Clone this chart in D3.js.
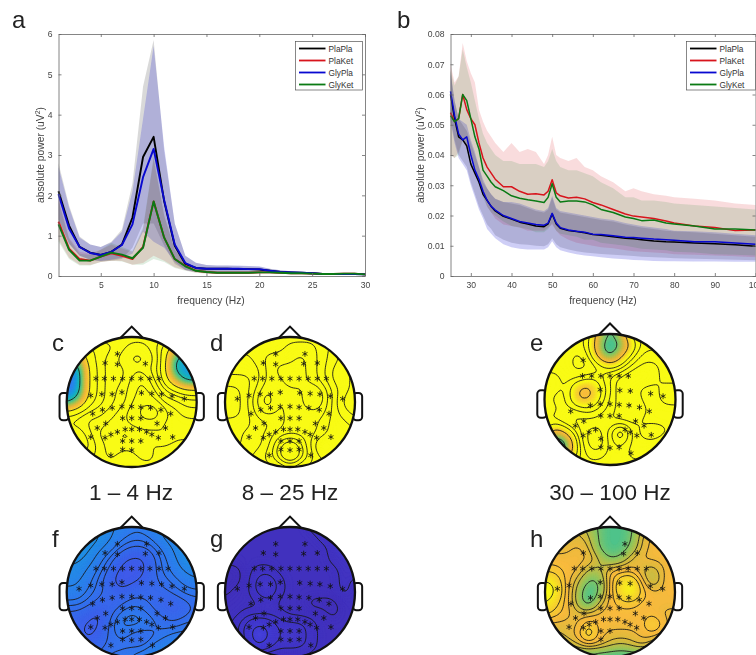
<!DOCTYPE html>
<html>
<head>
<meta charset="utf-8">
<script src="https://d3js.org/d3.v7.min.js"></script>
<style>
    html, body { margin: 0; padding: 0; background: #fff; overflow: hidden; }
    svg { display: block; font-family: "Liberation Sans", Arial, sans-serif; filter: blur(0.35px); }
</style>
</head>
<body>
<svg id="fig" width="756" height="655"></svg>
<script>
// ------------------ panel a: 1-30 Hz ------------------
const freqA = d3.range(1, 31);
const aPlaPla = [2.1,1.25,.72,.58,.52,.6,.78,1.45,2.95,3.45,1.85,.75,.3,.2,.18,.18,.18,.17,.17,.16,.13,.1,.09,.08,.07,.05,.05,.05,.05,.04];
const aPlaKet = [1.35,.68,.42,.38,.48,.56,.5,.42,.72,1.85,.95,.42,.25,.13,.1,.08,.08,.08,.08,.09,.09,.08,.07,.07,.06,.05,.05,.06,.06,.04];
const aGlyPla = [2.03,1.18,.72,.57,.52,.6,.77,1.28,2.45,3.15,1.88,.78,.32,.2,.18,.18,.18,.18,.17,.17,.13,.1,.09,.08,.07,.05,.05,.05,.05,.04];
const aGlyKet = [1.28,.65,.38,.38,.48,.58,.53,.44,.7,1.85,.95,.42,.24,.13,.1,.08,.08,.08,.08,.09,.09,.08,.07,.07,.06,.05,.05,.06,.06,.04];
const aPlaPlaUp = [2.8,1.75,.98,.78,.72,.85,1.15,2.3,4.7,5.85,3.1,1.3,.5,.33,.27,.26,.26,.25,.24,.23,.18,.14,.12,.1,.09,.07,.07,.07,.07,.06];
const aPlaPlaLo = [1.4,.8,.5,.4,.36,.38,.42,.7,1.3,1.3,.75,.3,.15,.1,.1,.1,.1,.1,.1,.09,.08,.06,.06,.05,.05,.04,.03,.03,.03,.03];
const aPlaKetUp = [1.9,.95,.6,.55,.65,.78,.68,.6,1.15,2.9,1.5,.65,.35,.2,.14,.12,.12,.12,.12,.13,.13,.12,.1,.1,.09,.07,.07,.08,.08,.06];
const aPlaKetLo = [.9,.45,.28,.27,.35,.38,.37,.28,.32,.5,.38,.22,.14,.08,.06,.05,.05,.05,.05,.06,.06,.05,.05,.05,.04,.03,.03,.04,.04,.03];
const aGlyPlaUp = [2.7,1.7,.95,.78,.72,.83,1.1,2.1,3.9,5.7,3.2,1.3,.5,.33,.27,.26,.26,.26,.25,.24,.18,.14,.12,.1,.09,.07,.07,.07,.07,.06];
const aGlyPlaLo = [1.4,.8,.5,.4,.37,.4,.45,.55,1.1,.85,.7,.35,.15,.1,.1,.1,.1,.1,.1,.09,.08,.06,.06,.05,.05,.04,.03,.03,.03,.03];
const aGlyKetUp = [1.85,.92,.55,.52,.65,.82,.72,.62,1.2,2.95,1.5,.65,.35,.2,.14,.12,.12,.12,.12,.13,.13,.12,.1,.1,.09,.07,.07,.08,.08,.06];
const aGlyKetLo = [.85,.42,.26,.26,.35,.38,.36,.28,.28,.42,.35,.2,.13,.08,.06,.05,.05,.05,.05,.06,.06,.05,.05,.05,.04,.03,.03,.04,.04,.03];

// ------------------ panel b: 25-100 Hz ------------------
const freqB = [25,26,27,28,29,30,31,32,33,34,35,36,38,40,42,44,46,48,49,50,51,52,54,56,58,60,62,65,68,70,72,75,78,80,85,90,95,100];
const bPlaPla = [.060,.052,.046,.045,.043,.037,.034,.031,.027,.025,.023,.0215,.0197,.0188,.0178,.0172,.0165,.0163,.0172,.0205,.0172,.0158,.0150,.0147,.0143,.0137,.0135,.0130,.0125,.0123,.0120,.0116,.0113,.0112,.0109,.0107,.0103,.0098];
const bPlaKet = [.054,.051,.052,.060,.055,.052,.050,.044,.039,.036,.034,.032,.0295,.0295,.0280,.0270,.0272,.0268,.0280,.0318,.0275,.0265,.0258,.0260,.0255,.0243,.0235,.0220,.0205,.0198,.0195,.0190,.0182,.0175,.0165,.0160,.0150,.0152];
const bGlyPla = [.061,.053,.047,.045,.046,.040,.035,.032,.028,.025,.023,.0218,.0200,.0190,.0180,.0175,.0170,.0168,.0175,.0207,.0175,.0160,.0152,.0148,.0145,.0138,.0137,.0133,.0128,.0127,.0125,.0122,.0120,.0118,.0113,.0113,.0109,.0105];
const bGlyKet = [.053,.051,.052,.060,.058,.052,.046,.042,.035,.033,.031,.0295,.0282,.0265,.0257,.0252,.0248,.0243,.0260,.0305,.0260,.0245,.0248,.0248,.0245,.0235,.0220,.0210,.0195,.0190,.0183,.0185,.0175,.0172,.0165,.0155,.0155,.0152];
const bPlaPlaUp = [.068,.058,.052,.050,.048,.044,.040,.036,.031,.029,.027,.0255,.0245,.024,.0235,.0225,.0215,.021,.022,.026,.022,.021,.0205,.020,.0195,.019,.0185,.018,.017,.0165,.016,.0155,.015,.0148,.0145,.014,.0135,.013];
const bPlaPlaLo = [.052,.045,.040,.038,.036,.031,.027,.023,.020,.017,.0155,.0135,.012,.011,.0105,.0103,.0100,.0098,.0105,.0125,.0105,.0095,.0088,.0082,.0078,.0075,.0073,.007,.0068,.0066,.0064,.0062,.006,.0059,.0057,.0055,.0054,.0052];
const bPlaKetUp = [.070,.064,.066,.077,.071,.067,.064,.055,.051,.048,.046,.044,.041,.044,.041,.042,.041,.037,.040,.046,.040,.039,.038,.039,.036,.035,.033,.031,.028,.029,.028,.027,.0265,.026,.0255,.025,.024,.0235];
const bPlaKetLo = [.040,.039,.041,.045,.042,.040,.036,.032,.027,.023,.021,.019,.017,.0165,.016,.015,.015,.015,.016,.017,.015,.0135,.012,.011,.0105,.010,.0095,.0092,.0085,.0082,.008,.0078,.0075,.0072,.007,.0068,.0065,.0062];
const bGlyPlaUp = [.067,.058,.052,.051,.050,.045,.041,.036,.032,.029,.027,.0255,.0245,.0245,.024,.023,.022,.0215,.0225,.0265,.0225,.0215,.021,.0205,.020,.0195,.019,.0185,.0175,.017,.0165,.016,.0155,.015,.0148,.0145,.014,.0135];
const bGlyPlaLo = [.051,.044,.039,.037,.035,.030,.026,.022,.019,.0155,.014,.0125,.0105,.0095,.009,.0088,.0088,.0088,.0095,.0115,.0095,.0085,.0078,.0072,.0068,.0065,.0062,.0058,.0055,.0053,.0052,.005,.0049,.0049,.0048,.0048,.0047,.0047];
const bGlyKetUp = [.068,.063,.066,.075,.069,.064,.058,.052,.047,.044,.042,.040,.038,.038,.037,.037,.037,.036,.038,.042,.038,.036,.035,.035,.034,.033,.031,.029,.026,.026,.025,.025,.0245,.024,.0235,.023,.0225,.022];
const bGlyKetLo = [.040,.039,.040,.045,.043,.040,.035,.031,.026,.023,.021,.020,.018,.0165,.016,.0155,.0145,.0145,.0155,.0175,.015,.014,.0135,.013,.012,.012,.011,.0105,.010,.0095,.009,.0088,.0085,.008,.0078,.0072,.007,.0068];

const groupNames = ["PlaPla", "PlaKet", "GlyPla", "GlyKet"];
const groupColors = ["#000000", "#d8141c", "#0808d0", "#0a7a14"];
const bandOpacity = [0.15, 0.15, 0.2, 0.13];

const ticksAX = [5, 10, 15, 20, 25, 30];
const ticksAY = [0, 1, 2, 3, 4, 5, 6];
const ticksBX = [30, 40, 50, 60, 70, 80, 90, 100];
const ticksBY = [0, .01, .02, .03, .04, .05, .06, .07, .08];

// ------------------ topographies ------------------
// sensor layout, unit head radius, y pointing to the back of the head
const sensorX = [-.22,.23,-.41,-.22,.21,.42,
    -.55,-.42,-.28,-.14,0,.14,.28,.42,.56,
    -.81,-.63,-.46,-.30,-.15,.15,.31,.46,.62,.81,
    -.60,-.45,-.30,-.15,0,.14,.29,.45,.60,
    -.14,0,.14,-.53,-.40,.39,.52,
    -.63,-.41,-.32,-.22,-.10,0,.12,.23,.31,.41,.63,
    -.14,0,.14,-.14,0,.14,-.32,.32];
const sensorY = [-.74,-.74,-.60,-.58,-.59,-.60,
    -.36,-.36,-.36,-.36,-.36,-.36,-.36,-.36,-.36,
    -.05,-.10,-.12,-.12,-.15,-.14,-.13,-.12,-.09,-.05,
    .18,.12,.09,.07,.07,.08,.09,.12,.18,
    .25,.25,.25,.40,.33,.33,.40,
    .54,.55,.50,.46,.42,.42,.42,.46,.50,.55,.54,
    .60,.60,.60,.73,.74,.73,.82,.82];
const sensorsC = d3.range(60).filter(i => ![1,5,14,15,57,59].includes(i));
const sensorsD = d3.range(60);
const sensorsE = [2,7,8,9,10,11,12,19,20,21,23,24,25,27,28,29,30,31,32,33,34,35,36,37,38,39,40,42,43,44,48,49,50,51,52,55,56,57,59];
const sensorsF = d3.range(60);
const sensorsG = d3.range(60);
const sensorsH = [1,2,4,5,6,7,8,9,10,11,12,13,14,15,16,19,20,21,23,24,25,27,28,29,30,31,32,33,34,35,36,37,38,39,40,41,42,43,44,45,46,47,48,49,50,52,53,55];

// values read on a 13x13 grid over the head
const gridC = [
    [13,13,13,13,13,13,13,13,13,13,13,13,13],
    [11,11,11,12,12,13,14,14,13,11,8,5,4],
    [8,5,11,12,13,14,15,15,14,11,4,3,3],
    [2,2,10,12,13,13,14,14,13,11,3,3,3],
    [2,2,10,12,13,13,15,16,14,11,7,3,3],
    [2,2,10,12,13,14,15,16,15,13,12,11,11],
    [3,6,11,12,13,14,15,17,16,14,14,13,13],
    [11,12,13,13,14,15,16,19,21,16,15,14,14],
    [13,13,14,14,15,15,16,16,16,15,15,15,15],
    [12,11,13,15,15,14,14,15,15,16,15,15,15],
    [12,11,12,14,15,15,15,15,14,15,14,14,14],
    [13,13,13,14,15,14,14,15,15,13,13,13,13],
    [14,14,14,14,14,14,14,14,14,14,14,14,14]];
const gridD = [
    [14,14,14,14,14,14,14,14,14,14,14,14,14],
    [14,14,14,14,14,14,15,15,15,14,13,12,12],
    [13,13,13,14,15,15,15,16,15,14,13,12,12],
    [13,13,13,13,15,16,16,16,15,14,12,12,11],
    [12,12,12,13,15,15,17,16,15,14,12,12,11],
    [11,11,12,14,16,14,15,15,17,16,13,12,11],
    [11,11,12,15,17,14,15,15,17,16,13,11,10],
    [11,11,12,14,15,14,15,15,15,15,13,12,11],
    [12,12,12,13,13,14,15,15,15,14,13,13,12],
    [12,12,13,13,14,15,15,15,15,14,13,13,13],
    [12,12,13,13,14,17,20,17,14,11,13,13,13],
    [13,13,13,14,15,17,22,17,15,13,13,13,13],
    [14,14,14,14,14,14,14,14,14,14,14,14,14]];
const gridE = [
    [12,12,12,12,12,7,5,7,12,12,12,12,12],
    [12,12,12,12,11,6,4,5,9,12,12,12,12],
    [12,12,12,13,12,7,4,8,11,13,13,13,13],
    [12,12,12,13,13,12,10,11,13,14,14,13,13],
    [11,11,12,12,11,11,13,14,15,15,14,13,13],
    [11,11,12,8,7,10,12,15,14,13,13,14,14],
    [11,12,12,8,8,10,13,14,15,13,13,14,14],
    [11,11,12,12,11,12,13,14,15,14,13,13,13],
    [12,12,13,13,13,13,14,14,14,13,13,13,13],
    [11,6,9,12,14,14,12,7,13,14,15,14,13],
    [7,3,4,11,14,15,12,11,13,13,13,12,12],
    [5,3,6,11,13,13,12,12,13,13,12,12,12],
    [12,12,12,12,12,12,12,12,12,12,12,12,12]];
const gridF = [
    [12,12,12,11,10,9,8,8,9,10,11,11,11],
    [13,13,13,12,10,8,7,7,8,10,11,11,11],
    [13,13,12,10,8,6,5,5,6,8,10,12,12],
    [12,12,11,8,6,4,3,3,5,7,9,12,13],
    [11,11,9,7,5,3,2,3,5,7,8,10,11],
    [10,10,8,6,4,2,3,4,5,6,7,8,9],
    [9,9,7,6,5,4,5,5,5,5,6,7,7],
    [7,7,6,5,4,5,6,6,5,4,4,5,6],
    [5,5,4,3,5,7,8,7,6,5,4,5,6],
    [4,4,3,3,6,8,8,8,7,6,6,7,7],
    [4,4,3,4,6,7,6,5,6,7,8,8,8],
    [5,5,4,5,6,6,6,6,8,9,10,10,10],
    [6,6,5,6,7,7,8,9,10,11,11,11,11]];
const gridG = [
    [3,3,3,3,3,3,3,3,4,4,5,5,5],
    [3,3,3,3,3,3,3,3,3,4,4,5,5],
    [3,3,3,3,3,3,3,3,3,3,4,5,5],
    [3,3,3,3,3,3,3,3,3,3,4,4,4],
    [2,2,3,4,4,3,3,3,3,3,3,4,4],
    [2,2,3,5,6,4,3,3,3,3,3,4,3],
    [2,3,3,5,6,4,3,3,3,3,3,4,3],
    [3,3,3,3,4,3,3,3,2,2,2,3,3],
    [3,3,4,4,4,4,3,3,3,3,2,3,3],
    [3,4,6,8,7,5,5,5,4,3,3,3,3],
    [3,4,6,10,8,5,6,5,4,3,3,3,3],
    [3,3,5,8,6,5,5,5,4,3,3,3,3],
    [3,3,3,3,3,3,3,3,3,3,3,3,3]];
const gridH = [
    [6,6,6,6,5,3,2,2,3,6,7,7,7],
    [6,7,7,7,6,3,2,2,3,7,8,8,8],
    [7,7,7,8,7,3,2,2,4,7,8,8,8],
    [8,8,8,8,8,6,3,4,7,8,8,8,8],
    [9,9,8,8,5,5,8,8,8,6,5,8,8],
    [12,11,8,6,3,3,8,11,12,8,4,8,9],
    [13,12,8,5,1,3,8,11,13,9,8,8,8],
    [12,10,8,5,1,6,8,9,9,8,8,8,8],
    [10,9,8,7,7,8,8,8,8,8,8,7,7],
    [7,7,7,7,10,8,8,8,8,8,11,8,7],
    [6,6,7,8,12,8,7,7,7,8,8,7,5],
    [4,4,5,6,7,7,6,5,6,7,5,2,1],
    [2,2,2,2,2,1,1,1,1,1,1,1,1]];

const levelsC = [4.5,9.5,11.5,12.5,13.5,14.5,15.5,17.5];
const levelsD = [10.5,11.5,12.5,13.5,14.5,15.5,16.5,17.5,19.5,21.5];
const levelsE = [5.5,8.5,10.5,11.5,12.5,13.5,14.5];
const levelsF = [3.5,5.5,6.5,7.5,9.5,11.5,12.5];
const levelsG = [2.5,3.5,4.5,5.5,7.5,9.5];
const levelsH = [1.5,3.5,5.5,6.5,7.5,8.5,9.5,11.5];

// colour map stops
const colormapStops = ["#3e26a8","#4748e8","#2f7cee","#16a0dc","#1cb8b0","#4ec38a","#94c65c","#d4bb3e","#f8ba3d","#f7d52e","#f9fb15"];
const colormap = d3.scaleLinear().domain(d3.range(11).map(d => d / 10)).range(colormapStops).clamp(true);

// ------------------ drawing ------------------
const svg = d3.select("#fig");

function drawSpectrum(box, freqs, xDomain, yDomain, xTicks, yTicks, yFormat, means, ups, los, lineW, legendBox, labelX) {
    let x = d3.scaleLinear().domain(xDomain).range([box.left, box.right]);
    let y = d3.scaleLinear().domain(yDomain).range([box.bottom, box.top]);

    let g = svg.append("g");

    // shaded error bands first, then the lines
    means.forEach((m, s) => {
        let area = d3.area().x((d, i) => x(freqs[i])).y0((d, i) => y(los[s][i])).y1((d, i) => y(ups[s][i]));
        g.append("path").attr("d", area(m)).attr("fill", groupColors[s]).attr("fill-opacity", bandOpacity[s]);
    });
    means.forEach((m, s) => {
        let line = d3.line().x((d, i) => x(freqs[i])).y(d => y(d));
        g.append("path").attr("d", line(m)).attr("fill", "none")
            .attr("stroke", groupColors[s]).attr("stroke-width", lineW).attr("stroke-linejoin", "round");
    });

    // box axes, ticks pointing in
    let axisColor = "#666";
    let bottom = g.append("g").attr("transform", `translate(0,${box.bottom})`)
        .call(d3.axisBottom(x).tickValues(xTicks).tickSizeInner(-3).tickSizeOuter(0).tickPadding(6));
    let top = g.append("g").attr("transform", `translate(0,${box.top})`)
        .call(d3.axisTop(x).tickValues(xTicks).tickSizeInner(-3).tickSizeOuter(0).tickFormat(""));
    let left = g.append("g").attr("transform", `translate(${box.left},0)`)
        .call(d3.axisLeft(y).tickValues(yTicks).tickFormat(yFormat).tickSizeInner(-3).tickSizeOuter(0).tickPadding(6));
    let right = g.append("g").attr("transform", `translate(${box.right},0)`)
        .call(d3.axisRight(y).tickValues(yTicks).tickSizeInner(-3).tickSizeOuter(0).tickFormat(""));
    [bottom, top, left, right].forEach(a => {
        a.selectAll("path,line").attr("stroke", axisColor).attr("stroke-width", 0.8);
        a.selectAll("text").attr("fill", "#444").attr("font-size", 8.6).attr("font-family", "Liberation Sans");
    });

    // axis titles
    g.append("text").attr("x", labelX.xMid).attr("y", 304)
        .attr("text-anchor", "middle").attr("font-size", 10.3).attr("fill", "#444").text("frequency (Hz)");
    let yl = g.append("text").attr("transform", `translate(${labelX.yLab},155) rotate(-90)`)
        .attr("text-anchor", "middle").attr("font-size", 10.3).attr("fill", "#444");
    yl.append("tspan").text("absolute power (uV");
    yl.append("tspan").text("2").attr("font-size", 7).attr("dy", -4);
    yl.append("tspan").text(")").attr("dy", 4);

    // legend
    g.append("rect").attr("x", legendBox.x).attr("y", 41.5).attr("width", legendBox.w).attr("height", 48.5)
        .attr("fill", "#fff").attr("stroke", "#555").attr("stroke-width", 0.7);
    let rowY = d3.scalePoint().domain(groupNames).range([48.5, 84.5]);
    groupNames.forEach((name, s) => {
        g.append("line").attr("x1", legendBox.x + 3.5).attr("x2", legendBox.x + 30)
            .attr("y1", rowY(name)).attr("y2", rowY(name))
            .attr("stroke", groupColors[s]).attr("stroke-width", 1.8);
        g.append("text").attr("x", legendBox.x + legendBox.textDx).attr("y", rowY(name) + 3)
            .attr("font-size", 8.3).attr("fill", "#333").text(name);
    });
}

drawSpectrum({left: 58.5, right: 365, top: 34, bottom: 276}, freqA, [1, 30], [0, 6], ticksAX, ticksAY, d3.format("d"),
    [aPlaPla, aPlaKet, aGlyPla, aGlyKet],
    [aPlaPlaUp, aPlaKetUp, aGlyPlaUp, aGlyKetUp],
    [aPlaPlaLo, aPlaKetLo, aGlyPlaLo, aGlyKetLo],
    1.9, {x: 295.5, w: 67, textDx: 33}, {xMid: 211, yLab: 44});

drawSpectrum({left: 450.5, right: 755.5, top: 34, bottom: 276}, freqB, [25, 100], [0, .08], ticksBX, ticksBY, d => d === 0 ? "0" : d3.format(".2f")(d),
    [bPlaPla, bPlaKet, bGlyPla, bGlyKet],
    [bPlaPlaUp, bPlaKetUp, bGlyPlaUp, bGlyKetUp],
    [bPlaPlaLo, bPlaKetLo, bGlyPlaLo, bGlyKetLo],
    1.5, {x: 686.5, w: 69, textDx: 33}, {xMid: 603, yLab: 424});

// grid -> finer grid so the contours come out smooth
function refine(grid, k) {
    let n = grid.length, m = (n - 1) * k + 1, out = new Float64Array(m * m);
    for (let j = 0; j < m; j++) {
        for (let i = 0; i < m; i++) {
            let gx = i / k, gy = j / k;
            let x0 = Math.min(Math.floor(gx), n - 2), y0 = Math.min(Math.floor(gy), n - 2);
            let fx = gx - x0, fy = gy - y0;
            out[j * m + i] = grid[y0][x0] * (1 - fx) * (1 - fy) + grid[y0][x0 + 1] * fx * (1 - fy)
                + grid[y0 + 1][x0] * (1 - fx) * fy + grid[y0 + 1][x0 + 1] * fx * fy;
        }
    }
    d3.blur2({data: out, width: m, height: m}, k * 0.38);
    return {values: out, size: m};
}

function drawHead(id, cx, cy, r, grid, levels, tOf, sensors) {
    let g = svg.append("g").attr("id", "head" + id);

    // nose and ears behind the disc
    let toPx = d3.scaleLinear().domain([-1, 1]).range([-r, r]);
    let outline = d3.line();
    g.append("path").attr("d", outline([[cx + toPx(-.19), cy + toPx(-.97)], [cx, cy + toPx(-1.16)], [cx + toPx(.19), cy + toPx(-.97)]]))
        .attr("fill", "#fff").attr("stroke", "#111").attr("stroke-width", 2);
    [-1, 1].forEach(side => {
        g.append("rect").attr("x", cx + (side < 0 ? toPx(-1.11) : toPx(.97))).attr("y", cy + toPx(-.14))
            .attr("width", r * .14).attr("height", r * .42).attr("rx", 3.5)
            .attr("fill", "#fff").attr("stroke", "#111").attr("stroke-width", 2);
    });

    let fine = refine(grid, 6);
    let lo = d3.min(fine.values), hi = d3.max(fine.values);
    let clip = "clip" + id;
    g.append("clipPath").attr("id", clip).append("circle").attr("cx", cx).attr("cy", cy).attr("r", r);
    let inner = g.append("g").attr("clip-path", `url(#${clip})`);
    inner.append("rect").attr("x", cx - r).attr("y", cy - r).attr("width", 2 * r).attr("height", 2 * r).attr("fill", colormap(tOf(lo)));

    let scale = 2 * r / (fine.size - 1);
    let geo = d3.geoPath(d3.geoIdentity().scale(scale).translate([cx - r - scale / 2, cy - r - scale / 2]));

    // filled bands
    let fills = d3.contours().size([fine.size, fine.size]).smooth(true)
        .thresholds(d3.range(lo, hi, (hi - lo) / 60))(fine.values);
    inner.selectAll("path.fill").data(fills).enter().append("path").attr("class", "fill")
        .attr("d", d => geo(d)).attr("fill", d => colormap(tOf(d.value))).attr("stroke", d => colormap(tOf(d.value))).attr("stroke-width", 0.3);

    // iso-lines
    let lines = d3.contours().size([fine.size, fine.size]).smooth(true).thresholds(levels)(fine.values);
    inner.selectAll("path.iso").data(lines).enter().append("path").attr("class", "iso")
        .attr("d", d => geo(d)).attr("fill", "none").attr("stroke", "#1a1a1a").attr("stroke-width", 0.9);

    // electrodes
    let star = d3.symbol().type(d3.symbolAsterisk).size(24);
    g.selectAll("path.sensor").data(sensors).enter().append("path").attr("class", "sensor")
        .attr("transform", i => `translate(${cx + toPx(sensorX[i])},${cy + toPx(sensorY[i])})`)
        .attr("d", star()).attr("fill", "none").attr("stroke", "#111").attr("stroke-width", 0.8);

    g.append("circle").attr("cx", cx).attr("cy", cy).attr("r", r).attr("fill", "none").attr("stroke", "#111").attr("stroke-width", 2.3);
}

drawHead("c", 131.7, 402, 65, gridC, levelsC, v => v / 10, sensorsC);
drawHead("d", 290, 402, 65, gridD, levelsD, v => v / 10, sensorsD);
drawHead("e", 610, 399.5, 65.5, gridE, levelsE, v => v / 10, sensorsE);
drawHead("f", 131.7, 592, 65, gridF, levelsF, v => .1 + v * .013, sensorsF);
drawHead("g", 290, 592, 65, gridG, levelsG, v => .01 + v * .008, sensorsG);
drawHead("h", 610, 592, 65, gridH, levelsH, v => .4 + v * .05, sensorsH);

// panel letters and band captions
const panelLetters = ["a", "b", "c", "d", "e", "f", "g", "h"];
const letterX = [12, 397, 52, 210, 530, 52, 210, 530];
const letterY = [28, 28, 351, 351, 351, 547, 547, 547];
svg.selectAll("text.letter").data(panelLetters).enter().append("text").attr("class", "letter")
    .attr("x", (d, i) => letterX[i]).attr("y", (d, i) => letterY[i])
    .attr("font-size", 24).attr("fill", "#222").text(d => d);

const bandLabels = ["1 – 4 Hz", "8 – 25 Hz", "30 – 100 Hz"];
const bandLabelX = [131, 290, 610];
svg.selectAll("text.band").data(bandLabels).enter().append("text").attr("class", "band")
    .attr("x", (d, i) => bandLabelX[i]).attr("y", 500).attr("text-anchor", "middle")
    .attr("font-size", 22.5).attr("fill", "#222").text(d => d);
</script>
</body>
</html>
